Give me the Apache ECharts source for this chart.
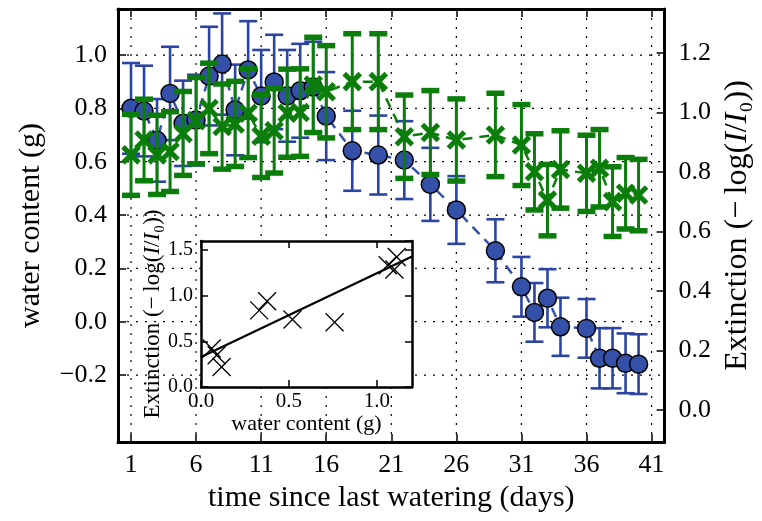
<!DOCTYPE html>
<html><head><meta charset="utf-8">
<script src="https://cdn.jsdelivr.net/npm/echarts@6/dist/echarts.min.js"></script>
<style>html,body{margin:0;padding:0;background:#fff}#c{width:762px;height:521px}</style>
</head><body><div id="c"></div>
<script>
// ---------- data ----------
const days = [1,2,3,4,5,6,7,8,9,10,11,12,13,14,15,16,18,20,22,24,26,29,31,32,33,34,36,37,38,39,40];
const water = [0.80,0.79,0.68,0.856,0.744,0.756,0.921,0.966,0.794,0.944,0.846,0.899,0.847,0.866,0.88,0.771,
  0.641,0.625,0.606,0.515,0.419,0.266,0.131,0.035,0.088,-0.019,-0.025,-0.137,-0.137,-0.156,-0.159];
const waterErr = [0.17,0.17,0.155,0.175,0.16,0.17,0.185,0.19,0.17,0.183,0.173,0.177,0.172,0.176,0.17,0.165,
  0.15,0.148,0.146,0.137,0.127,0.118,0.112,0.11,0.109,0.109,0.11,0.113,0.113,0.112,0.112];
const ext = [0.857,0.907,0.857,0.868,0.929,0.972,1.013,0.952,0.961,0.997,0.92,0.938,0.997,0.999,1.092,1.069,
  1.103,1.103,0.918,0.932,0.907,0.924,0.89,0.80,0.705,0.808,0.795,0.812,0.70,0.728,0.722];
const extErr = [0.136,0.137,0.133,0.134,0.141,0.145,0.152,0.143,0.143,0.149,0.139,0.142,0.148,0.147,0.16,0.155,
  0.161,0.161,0.14,0.141,0.138,0.14,0.136,0.128,0.12,0.13,0.128,0.13,0.117,0.12,0.12];
const xTicks = [1,6,11,16,21,26,31,36,41];
const waterTicks = [-0.2,0,0.2,0.4,0.6,0.8,1.0];
const extTicks = [0,0.2,0.4,0.6,0.8,1.0,1.2];

const insetWater = [0.061,0.089,0.117,0.331,0.376,0.52,0.76,1.062,1.10,1.113];
const insetExt = [0.421,0.348,0.219,0.84,0.94,0.74,0.71,1.334,1.287,1.425];
const fitX = [0, 1.2];
const fitY = [0.33, 1.43];
const insetXTicks = [0, 0.5, 1.0];

// ---------- styling helpers ----------
const FONT = "'Liberation Serif','DejaVu Serif',serif";
const BLUE = '#3450a8', BLUE_E = '#2b43a3', GREEN = '#0a7d0a';

function errRender(color, lw, capW, capLw) {
  return function (params, api) {
    const x = api.value(0), lo = api.value(1), hi = api.value(2);
    const p1 = api.coord([x, hi]), p2 = api.coord([x, lo]);
    const s = {stroke: color, lineWidth: lw, fill: null};
    const cs = {stroke: color, lineWidth: capLw, fill: null};
    return {type: 'group', children: [
      {type: 'line', shape: {x1: p1[0], y1: p1[1], x2: p2[0], y2: p2[1]}, style: s},
      {type: 'line', shape: {x1: p1[0] - capW, y1: p1[1], x2: p1[0] + capW, y2: p1[1]}, style: cs},
      {type: 'line', shape: {x1: p2[0] - capW, y1: p2[1], x2: p2[0] + capW, y2: p2[1]}, style: cs}
    ]};
  };
}
function xRender(color, h, lw) {
  return function (params, api) {
    const p = api.coord([api.value(0), api.value(1)]);
    const s = {stroke: color, lineWidth: lw, fill: null};
    return {type: 'group', children: [
      {type: 'line', shape: {x1: p[0] - h, y1: p[1] - h, x2: p[0] + h, y2: p[1] + h}, style: s},
      {type: 'line', shape: {x1: p[0] - h, y1: p[1] + h, x2: p[0] + h, y2: p[1] - h}, style: s}
    ]};
  };
}
function gridRender(params, api) {
  const cs = params.coordSys;
  const ch = [];
  const st = {stroke: '#000', lineWidth: 1.2, lineDash: [2, 7], fill: null};
  xTicks.forEach(t => {
    const px = api.coord([t, 0])[0];
    ch.push({type: 'line', shape: {x1: px, y1: cs.y, x2: px, y2: cs.y + cs.height}, style: st});
  });
  waterTicks.forEach(t => {
    const py = api.coord([0, t])[1];
    ch.push({type: 'line', shape: {x1: cs.x, y1: py, x2: cs.x + cs.width, y2: py}, style: st});
  });
  return {type: 'group', children: ch};
}
const fmtMinus = v => (v < 0 ? '\u2212' : '') + Math.abs(v).toFixed(1);
const axLine = w => ({show: true, onZero: false, lineStyle: {color: '#000', width: w}});
const extName = '{a|Extinction (\u2212\u2009log(}{i|I}{a|/}{i|I}{a|\u2080))}';
const richFor = sz => ({a: {fontFamily: FONT, fontSize: sz, color: '#000'},
                        i: {fontFamily: FONT, fontSize: sz, fontStyle: 'italic', color: '#000'}});

const chart = echarts.init(document.getElementById('c'), null, {renderer: 'canvas'});
chart.setOption({
  animation: false,
  backgroundColor: '#fff',
  grid: [
    {left: 118, top: 9, width: 554, height: 433},
    {left: 201, top: 241, width: 211, height: 146, show: true, backgroundColor: '#fff', borderWidth: 0, z: 8}
  ],
  xAxis: [
    {type: 'value', gridIndex: 0, position: 'bottom', min: 0, max: 42,
     axisLine: axLine(3),
     axisTick: {show: true, inside: true, length: 8, lineStyle: {color: '#000', width: 1.5}, customValues: xTicks},
     axisLabel: {customValues: xTicks, color: '#000', fontFamily: FONT, fontSize: 26, margin: 10},
     splitLine: {show: false},
     name: 'time since last watering (days)', nameLocation: 'middle', nameGap: 38,
     nameTextStyle: {color: '#000', fontFamily: FONT, fontSize: 30}},
    {type: 'value', gridIndex: 0, position: 'top', min: 0, max: 42,
     axisLine: axLine(3),
     axisTick: {show: true, inside: true, length: 8, lineStyle: {color: '#000', width: 1.5}, customValues: xTicks},
     axisLabel: {show: false}, splitLine: {show: false}},
    {type: 'value', gridIndex: 1, position: 'bottom', min: 0, max: 1.2, z: 9,
     axisLine: axLine(2.5),
     axisTick: {show: true, inside: true, length: 7, lineStyle: {color: '#000', width: 1.5}, customValues: insetXTicks},
     axisLabel: {customValues: insetXTicks, formatter: v => v.toFixed(1), color: '#000', fontFamily: FONT, fontSize: 21, margin: 4},
     splitLine: {show: false},
     name: 'water content (g)', nameLocation: 'middle', nameGap: 18,
     nameTextStyle: {color: '#000', fontFamily: FONT, fontSize: 22, verticalAlign: 'top'}},
    {type: 'value', gridIndex: 1, position: 'top', min: 0, max: 1.2, z: 9,
     axisLine: axLine(2.5),
     axisTick: {show: true, inside: true, length: 7, lineStyle: {color: '#000', width: 1.5}, customValues: insetXTicks},
     axisLabel: {show: false}, splitLine: {show: false}}
  ],
  yAxis: [
    {type: 'value', gridIndex: 0, position: 'left', min: -0.451, max: 1.1726,
     axisLine: axLine(3),
     axisTick: {show: true, inside: true, length: 8, lineStyle: {color: '#000', width: 1.5}, customValues: waterTicks},
     axisLabel: {customValues: waterTicks, formatter: fmtMinus, color: '#000', fontFamily: FONT, fontSize: 26, margin: 11},
     splitLine: {show: false},
     name: 'water content (g)', nameLocation: 'middle', nameGap: 72,
     nameTextStyle: {color: '#000', fontFamily: FONT, fontSize: 30}},
    {type: 'value', gridIndex: 0, position: 'right', min: -0.1075, max: 1.347,
     axisLine: axLine(3),
     axisTick: {show: true, inside: true, length: 8, lineStyle: {color: '#000', width: 1.5}, customValues: extTicks},
     axisLabel: {customValues: extTicks, formatter: v => v.toFixed(1), color: '#000', fontFamily: FONT, fontSize: 26, margin: 14},
     splitLine: {show: false},
     name: extName, nameLocation: 'middle', nameGap: 56,
     nameTextStyle: {color: '#000', fontFamily: FONT, fontSize: 32, rich: richFor(32)}},
    {type: 'value', gridIndex: 1, position: 'left', min: 0, max: 1.6, interval: 0.5, z: 9,
     axisLine: axLine(2.5),
     axisTick: {show: true, inside: true, length: 7, lineStyle: {color: '#000', width: 1.5}},
     axisLabel: {formatter: v => v.toFixed(1), color: '#000', fontFamily: FONT, fontSize: 20, margin: 8},
     splitLine: {show: false},
     name: extName, nameLocation: 'middle', nameGap: 35,
     nameTextStyle: {color: '#000', fontFamily: FONT, fontSize: 23, rich: richFor(23)}},
    {type: 'value', gridIndex: 1, position: 'right', min: 0, max: 1.6, interval: 0.5, z: 9,
     axisLine: axLine(2.5),
     axisTick: {show: true, inside: true, length: 7, lineStyle: {color: '#000', width: 1.5}},
     axisLabel: {show: false}, splitLine: {show: false}}
  ],
  series: [
    {type: 'custom', xAxisIndex: 0, yAxisIndex: 0, z: 1, silent: true,
     data: [[0, 0]], renderItem: gridRender},
    {type: 'line', xAxisIndex: 0, yAxisIndex: 0, z: 2, showSymbol: false,
     data: days.map((d, i) => [d, water[i]]),
     lineStyle: {color: BLUE, width: 2.5, type: [10, 7]}},
    {type: 'custom', xAxisIndex: 0, yAxisIndex: 0, z: 3,
     data: days.map((d, i) => [d, water[i] - waterErr[i], water[i] + waterErr[i]]),
     encode: {x: 0, y: [1, 2]}, renderItem: errRender(BLUE_E, 2.6, 9, 2.6)},
    {type: 'scatter', xAxisIndex: 0, yAxisIndex: 0, z: 4, symbolSize: 18,
     data: days.map((d, i) => [d, water[i]]),
     itemStyle: {color: BLUE, borderColor: '#000', borderWidth: 1.5, opacity: 1}},
    {type: 'line', xAxisIndex: 0, yAxisIndex: 1, z: 5, showSymbol: false,
     data: days.map((d, i) => [d, ext[i]]),
     lineStyle: {color: GREEN, width: 2.5, type: [10, 7]}},
    {type: 'custom', xAxisIndex: 0, yAxisIndex: 1, z: 6,
     data: days.map((d, i) => [d, ext[i] - extErr[i], ext[i] + extErr[i]]),
     encode: {x: 0, y: [1, 2]}, renderItem: errRender(GREEN, 3, 9, 5.5)},
    {type: 'custom', xAxisIndex: 0, yAxisIndex: 1, z: 7,
     data: days.map((d, i) => [d, ext[i]]),
     encode: {x: 0, y: 1}, renderItem: xRender(GREEN, 8, 5)},
    {type: 'line', xAxisIndex: 2, yAxisIndex: 2, z: 10, showSymbol: false,
     data: fitX.map((x, i) => [x, fitY[i]]),
     lineStyle: {color: '#000', width: 2.2}},
    {type: 'custom', xAxisIndex: 2, yAxisIndex: 2, z: 10,
     data: insetWater.map((x, i) => [x, insetExt[i]]),
     encode: {x: 0, y: 1}, renderItem: xRender('#000', 9, 1.3)}
  ]
});
</script></body></html>
